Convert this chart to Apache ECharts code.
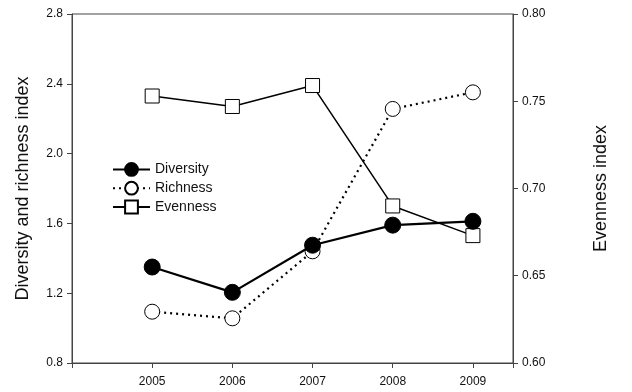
<!DOCTYPE html>
<html><head><meta charset="utf-8">
<script src="https://cdn.jsdelivr.net/npm/echarts@6/dist/echarts.min.js"></script>
<style>html,body{margin:0;padding:0;background:#fff}#c{width:632px;height:392px}</style>
</head><body><div id="c"></div>
<script>
const years = [2005, 2006, 2007, 2008, 2009];
const diversity = [1.35, 1.205, 1.475, 1.59, 1.612];
const richness = [1.094, 1.056, 1.44, 2.256, 2.351];
const evenness = [0.753, 0.747, 0.759, 0.690, 0.673];
const leftTicks = [0.8, 1.2, 1.6, 2.0, 2.4, 2.8];
const rightTicks = [0.60, 0.65, 0.70, 0.75, 0.80];

const font = 'Liberation Sans, Arial, sans-serif';
const axisCol = '#444';
const pair = arr => arr.map((v, i) => [years[i], v]);

const chart = echarts.init(document.getElementById('c'));
chart.setOption({
  animation: false,
  grid: { left: 72, right: 119, top: 14, bottom: 29, show: true, borderColor: axisCol, borderWidth: 1 },
  legend: {
    orient: 'vertical', left: 107, top: 157, itemGap: 4, itemWidth: 37, itemHeight: 16,
    textStyle: { fontFamily: font, fontSize: 14, color: '#111' },
    data: ['Diversity', 'Richness', 'Evenness']
  },
  xAxis: {
    type: 'value', min: 2004, max: 2009.5, interval: 1,
    axisLine: { lineStyle: { color: axisCol } },
    axisTick: { length: 5, lineStyle: { color: axisCol } },
    splitLine: { show: false },
    axisLabel: { margin: 13, fontFamily: font, fontSize: 12, color: '#111',
      formatter: v => (v >= 2005 && v <= 2009 && Number.isInteger(v)) ? String(v) : '' }
  },
  yAxis: [{
    type: 'value', min: leftTicks[0], max: leftTicks[leftTicks.length - 1], interval: 0.4,
    position: 'left',
    name: 'Diversity and richness index', nameLocation: 'middle', nameGap: 40,
    nameTextStyle: { fontFamily: font, fontSize: 18, color: '#111' },
    axisLine: { show: true, lineStyle: { color: axisCol } },
    axisTick: { show: true, length: 5, lineStyle: { color: axisCol } },
    splitLine: { show: false },
    axisLabel: { margin: 9, fontFamily: font, fontSize: 12, color: '#111', formatter: v => v.toFixed(1) }
  }, {
    type: 'value', min: rightTicks[0], max: rightTicks[rightTicks.length - 1], interval: 0.05,
    position: 'right',
    name: 'Evenness index', nameLocation: 'middle', nameGap: 79,
    nameTextStyle: { fontFamily: font, fontSize: 18, color: '#111' },
    axisLine: { show: true, lineStyle: { color: axisCol } },
    axisTick: { show: true, length: 5, lineStyle: { color: axisCol } },
    splitLine: { show: false },
    axisLabel: { margin: 9, fontFamily: font, fontSize: 12, color: '#111', formatter: v => v.toFixed(2) }
  }],
  series: [{
    name: 'Diversity', type: 'line', yAxisIndex: 0, data: pair(diversity),
    symbol: 'circle', symbolSize: 16,
    lineStyle: { color: '#000', width: 2.2 },
    itemStyle: { color: '#000', borderColor: '#000', borderWidth: 1 }, z: 4
  }, {
    name: 'Richness', type: 'line', yAxisIndex: 0, data: pair(richness),
    symbol: 'circle', symbolSize: 15,
    lineStyle: { color: '#000', width: 2.2, type: [2, 4] },
    itemStyle: { color: '#fff', borderColor: '#000', borderWidth: 1 }, z: 3
  }, {
    name: 'Evenness', type: 'line', yAxisIndex: 1, data: pair(evenness),
    symbol: 'rect', symbolSize: 14,
    lineStyle: { color: '#000', width: 1.5 },
    itemStyle: { color: '#fff', borderColor: '#000', borderWidth: 1 }, z: 2
  }]
});
</script></body></html>
